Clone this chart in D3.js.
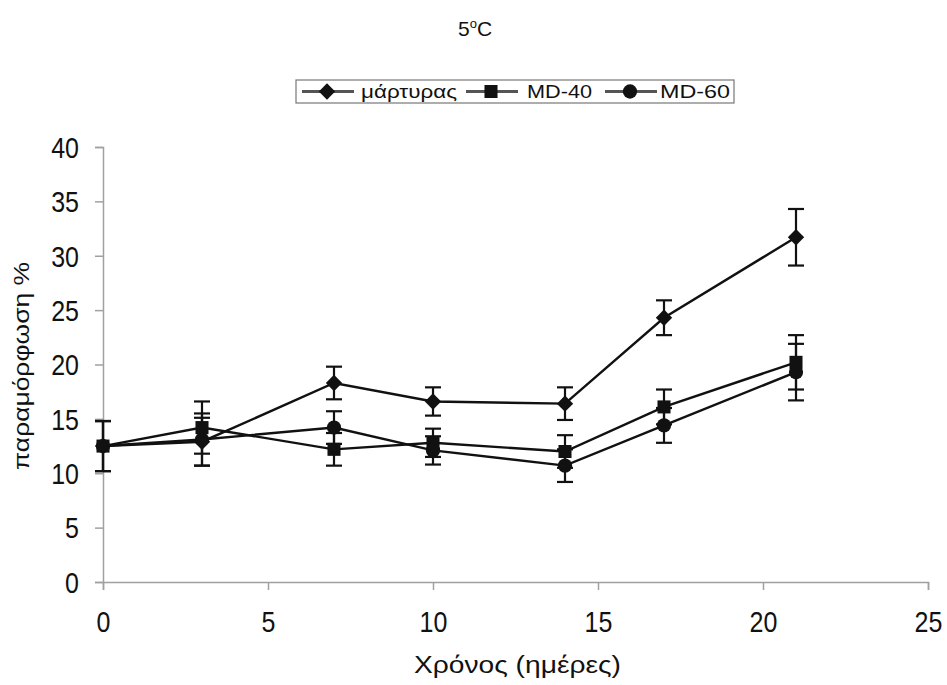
<!DOCTYPE html>
<html>
<head>
<meta charset="utf-8">
<script src="https://cdn.jsdelivr.net/npm/d3@7"></script>
<style>
  body { margin: 0; background: #fff; }
  svg { display: block; font-family: "Liberation Sans", Arial, sans-serif; }
</style>
</head>
<body>
<div id="chart"></div>
<script>
/* ── Data ─────────────────────────────────────────────────────────── */
const DAYS = [0, 3, 7, 10, 14, 17, 21];

const CONTROL     = [12.5, 12.9, 18.3, 16.6, 16.4, 24.3, 31.7];
const CONTROL_ERR = [2.3, 2.2, 1.5, 1.3, 1.5, 1.6, 2.6];

const MD40     = [12.5, 14.2, 12.2, 12.8, 12.0, 16.1, 20.2];
const MD40_ERR = [2.3, 2.4, 1.5, 1.3, 1.5, 1.6, 2.5];

const MD60     = [12.5, 13.1, 14.2, 12.1, 10.7, 14.4, 19.3];
const MD60_ERR = [2.3, 2.4, 1.5, 1.3, 1.5, 1.6, 2.6];

const SERIES = [
  { name: 'μάρτυρας', values: CONTROL, err: CONTROL_ERR, marker: 'diamond' },
  { name: 'MD-40',    values: MD40,    err: MD40_ERR,    marker: 'square' },
  { name: 'MD-60',    values: MD60,    err: MD60_ERR,    marker: 'circle' },
];

const X_TICKS = [0, 5, 10, 15, 20, 25];
const Y_TICKS = [0, 5, 10, 15, 20, 25, 30, 35, 40];

/* ── Layout ───────────────────────────────────────────────────────── */
const W = 947, H = 685;
const AXIS_CLR = '#a0a0a0';
const INK = '#111';
const TICK_FS = 25;     // tick label font size
const STRETCH = 1.15;   // the scanned labels are a bit taller than wide

const svg = d3.select('#chart').append('svg')
  .attr('width', W).attr('height', H);

const x = d3.scaleLinear().domain([0, 25]).range([103, 928]);
const y = d3.scaleLinear().domain([0, 40]).range([582, 147]);

/* ── Axes ─────────────────────────────────────────────────────────── */
const xAxis = svg.append('g')
  .attr('transform', `translate(0,${y(0)})`)
  .call(d3.axisBottom(x).tickValues(X_TICKS).tickSize(8));

const yAxis = svg.append('g')
  .attr('transform', `translate(${x(0)},0)`)
  .call(d3.axisLeft(y).tickValues(Y_TICKS).tickSize(8));

[xAxis, yAxis].forEach(a => {
  a.select('.domain').attr('stroke', AXIS_CLR).attr('stroke-width', 1.5);
  a.selectAll('.tick line').attr('stroke', AXIS_CLR).attr('stroke-width', 1.5);
  a.selectAll('.tick text')
    .attr('fill', INK)
    .attr('transform', `scale(1,${STRETCH})`)
    .style('font-size', TICK_FS + 'px')
    .style('font-family', '"Liberation Sans", Arial, sans-serif');
});
xAxis.selectAll('.tick text').attr('y', 50 / STRETCH).attr('dy', 0);
yAxis.selectAll('.tick text').attr('x', -24).attr('dy', '0.36em');

/* ── Error bars ───────────────────────────────────────────────────── */
const errG = svg.append('g');
SERIES.forEach(s => {
  DAYS.forEach((d, i) => {
    const cx = x(d);
    const top = y(s.values[i] + s.err[i]);
    const bot = y(s.values[i] - s.err[i]);
    errG.append('line')
      .attr('x1', cx).attr('x2', cx).attr('y1', top).attr('y2', bot)
      .attr('stroke', INK).attr('stroke-width', 2.2);
    [top, bot].forEach(yy => {
      errG.append('line')
        .attr('x1', cx - 8).attr('x2', cx + 8).attr('y1', yy).attr('y2', yy)
        .attr('stroke', INK).attr('stroke-width', 2.2);
    });
  });
});

/* ── Lines ────────────────────────────────────────────────────────── */
const line = d3.line()
  .x((v, i) => x(DAYS[i]))
  .y(v => y(v));

svg.append('g').selectAll('path')
  .data(SERIES)
  .join('path')
  .attr('d', s => line(s.values))
  .attr('fill', 'none')
  .attr('stroke', INK)
  .attr('stroke-width', 2.4);

/* ── Markers ──────────────────────────────────────────────────────── */
const FILLED = {
  diamond: d3.symbol().type(d3.symbolDiamond2).size(170),
  square:  d3.symbol().type(d3.symbolSquare).size(170),
  circle:  d3.symbol().type(d3.symbolCircle).size(160),
};

const markG = svg.append('g');
SERIES.forEach(s => {
  s.values.forEach((v, i) => {
    markG.append('path')
      .attr('d', FILLED[s.marker]())
      .attr('transform', `translate(${x(DAYS[i])},${y(v)})`)
      .attr('fill', INK);
  });
});

/* ── Title ────────────────────────────────────────────────────────── */
const title = svg.append('text')
  .attr('x', 475).attr('y', 36)
  .attr('text-anchor', 'middle')
  .style('font-size', '21px')
  .attr('fill', INK);
title.append('tspan').text('5');
title.append('tspan').attr('dy', '-8').style('font-size', '13px').text('o');
title.append('tspan').attr('dy', '8').text('C');

/* ── Legend ───────────────────────────────────────────────────────── */
const legend = svg.append('g');
legend.append('rect')
  .attr('x', 296).attr('y', 80).attr('width', 438).attr('height', 23)
  .attr('fill', '#fff').attr('stroke', '#777').attr('stroke-width', 1.2);

const LEG_X = [302, 466, 605];
const LEG_TXT_X = [361, 527, 660];
const LEG_TXT_W = [96, 65, 70];
SERIES.forEach((s, i) => {
  const lx = LEG_X[i];
  legend.append('line')
    .attr('x1', lx).attr('x2', lx + 52).attr('y1', 91.5).attr('y2', 91.5)
    .attr('stroke', '#555').attr('stroke-width', 3);
  legend.append('path')
    .attr('d', FILLED[s.marker]())
    .attr('transform', `translate(${lx + 25},91.5)`)
    .attr('fill', INK);
  legend.append('text')
    .attr('x', LEG_TXT_X[i]).attr('y', 98)
    .style('font-size', '18px')
    .attr('textLength', LEG_TXT_W[i])
    .attr('lengthAdjust', 'spacingAndGlyphs')
    .attr('fill', INK)
    .text(s.name);
});

/* ── Axis titles ──────────────────────────────────────────────────── */
svg.append('text')
  .attr('x', 414).attr('y', 673)
  .style('font-size', '23px')
  .attr('textLength', 207)
  .attr('lengthAdjust', 'spacingAndGlyphs')
  .attr('fill', INK)
  .text('Χρόνος (ημέρες)');

svg.append('text')
  .attr('transform', 'translate(29,470) rotate(-90)')
  .style('font-size', '22px')
  .attr('textLength', 208)
  .attr('lengthAdjust', 'spacingAndGlyphs')
  .attr('fill', INK)
  .text('παραμόρφωση %');
</script>
</body>
</html>
